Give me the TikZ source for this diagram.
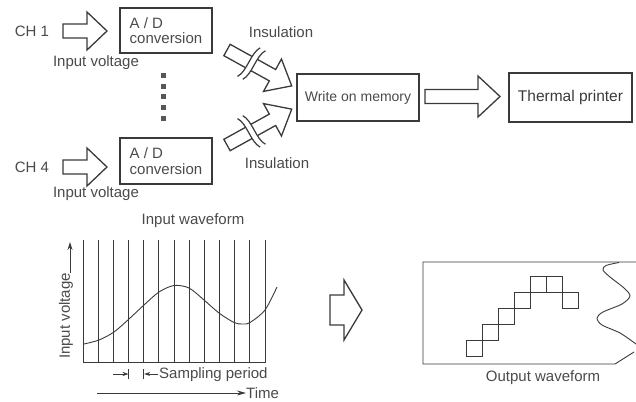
\documentclass[tikz,border=0pt]{standalone}
\usepackage{fontspec}
\setmainfont{Liberation Sans}
\usetikzlibrary{arrows.meta}
\definecolor{ink}{HTML}{3A3A3A}
\definecolor{txt}{HTML}{4A4A4A}
% hollow block arrow: #1 scope options, #2 length, #3 shaft half width, #4 head half width, #5 head length
\newcommand\hollowarr[5]{%
  \begin{scope}[#1]
    \draw[harr] (0,-#3) -- ({#2-#5},-#3) -- ({#2-#5},-#4) -- (#2,0) -- ({#2-#5},#4) -- ({#2-#5},#3) -- (0,#3) -- cycle;
  \end{scope}}
% insulated (broken) hollow arrow
\newcommand\insarr[1]{%
  \begin{scope}[#1]
    \draw[harr] (0,-6.5) -- (52,-6.5) -- (52,-18.5) -- (74,0) -- (52,18.5) -- (52,6.5) -- (0,6.5) -- cycle;
    \fill[white] (28,-18) .. controls (22,-9) and (28,9) .. (22,18) -- (28,18) .. controls (34,9) and (28,-9) .. (34,-18) -- cycle;
    \draw[cut] (28,-18) .. controls (22,-9) and (28,9) .. (22,18);
    \draw[cut] (34,-18) .. controls (28,-9) and (34,9) .. (28,18);
  \end{scope}}
\begin{document}
\begin{tikzpicture}[x=1pt,y=-1pt,
  font=\fontsize{15}{13}\selectfont,
  box/.style={draw=ink, line width=1.6pt, inner sep=0pt, text=txt},
  lbl/.style={text=txt, inner sep=0pt},
  harr/.style={draw=ink, line width=1.3pt, fill=white, line join=miter},
  cut/.style={draw=ink, line width=1.2pt},
  thin/.style={draw=ink, line width=0.9pt}]
\useasboundingbox (0,0) rectangle (636,401);

% ---- top block diagram ----
\node[lbl] (ch1) at (32,31) {CH 1};
\node[lbl] (ch4) at (32,167) {CH 4};
\node[box, minimum width=92pt, minimum height=45pt, align=left, font=\fontsize{15}{15.5}\selectfont] (ad1) at (166,30.5) {A / D\\conversion};
\node[box, minimum width=92pt, minimum height=46pt, align=left, font=\fontsize{15}{15.5}\selectfont] (ad2) at (166,161) {A / D\\conversion};
\node[lbl, anchor=base] (iv1) at (96,67) {Input voltage};
\node[lbl, anchor=base] (iv2) at (96,197) {Input voltage};
\node[lbl] (ins1) at (281,32) {Insulation};
\node[lbl] (ins2) at (277,163) {Insulation};
\node[box, minimum width=122pt, minimum height=47pt, font=\fontsize{14}{14}\selectfont] (mem) at (358,97.5) {Write on memory};
\node[box, minimum width=123pt, minimum height=49pt, font=\fontsize{15.5}{15.5}\selectfont, text=ink] (prn) at (570.5,97.5) {Thermal printer};

\hollowarr{shift={(63,31)}}{44}{7}{19}{20}
\hollowarr{shift={(63,167)}}{44}{7}{19}{20}
\hollowarr{shift={(425,96.5)}}{75}{7}{20.5}{22}
\insarr{shift={(227,50)},rotate=-29}
\insarr{shift={(227,145)},rotate=29,yscale=-1}

\foreach \yy in {76,86.5,97,107.5,118}
  \fill[ink!85] (163,\yy) ++(-2.5,-2.5) rectangle ++(5,5);

% ---- input waveform ----
\node[lbl] (iw) at (193,221) {Input waveform};
\foreach \i in {0,...,12}
  \draw[thin] ({83+15.17*\i},240) -- ({83+15.17*\i},362);
\draw[thin] (83,362) -- (266,362);
\draw[thin] plot[smooth] coordinates {(84,344)(99,340)(114,332)(129,319)(144,305)(159,292)(174,285.5)(189,288)(204,300)(219,313)(234,322.5)(242,324)(250,322.5)(265,310)(277,287)};
\node[lbl, rotate=90] (ivy) at (66,316) {Input voltage};
\draw[thin, -{Stealth[length=8pt,width=5pt]}] (70,273) -- (70,242);
\draw[thin, -{Stealth[length=6pt,width=4pt]}] (113,374) -- (128.5,374);
\draw[thin] (128.5,369) -- (128.5,379);
\draw[thin] (143.7,369) -- (143.7,379);
\draw[thin, -{Stealth[length=6pt,width=4pt]}] (158,374) -- (144.2,374);
\node[lbl, anchor=west] (sp) at (159,374.5) {Sampling period};
\draw[thin, -{Stealth[length=9pt,width=5pt]}] (97,393) -- (246,393);
\node[lbl, anchor=west] (time) at (246,393.5) {Time};

% ---- middle arrow ----
\hollowarr{shift={(330,310)}}{32}{15}{30}{18}

% ---- output waveform (chart paper) ----
\draw[thin] (636,262) -- (423,262) -- (423,364) -- (615,364) -- (634,352);
\draw[thin] plot[smooth] coordinates {(619,262.5)(606,265.5)(603,270)(610,277)(624,288)(630,296)(622,304)(603,312)(597,318)(602,325)(620,333)(636,344)};
\foreach \xx/\yy in {466/340,482/324,498/308,514/292,530/276,546/276,562/292}
  \draw[thin] (\xx,\yy) rectangle ++(16,16);
\node[lbl] (ow) at (543,378) {Output waveform};
\end{tikzpicture}
\end{document}
